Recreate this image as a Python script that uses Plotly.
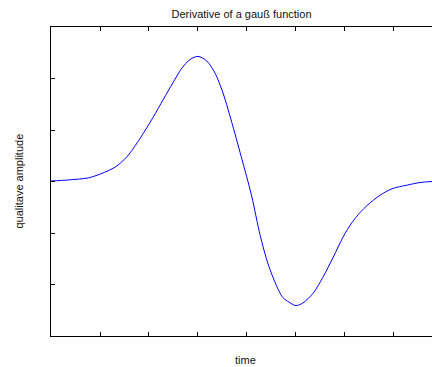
import plotly.graph_objects as go

# Sampled derivative-of-Gaussian pulse (time units, qualitative amplitude)
time = [0.0, 0.35, 0.76, 1.02, 1.31, 1.55, 1.82, 2.08, 2.29, 2.49, 2.67, 2.84,
        3.0, 3.18, 3.35, 3.51, 3.71, 3.90, 4.02, 4.10, 4.27, 4.43, 4.61, 4.73,
        4.92, 5.0, 5.14, 5.35, 5.55, 5.76, 5.96, 6.14, 6.31, 6.47, 6.71, 6.96,
        7.27, 7.53, 7.776]
amplitude = [0.01, 0.03, 0.07, 0.15, 0.28, 0.48, 0.84, 1.24, 1.59, 1.92, 2.2, 2.37,
             2.43, 2.34, 2.1, 1.72, 1.08, 0.42, 0.0, -0.30, -1.05, -1.6, -2.04, -2.25,
             -2.38, -2.41, -2.36, -2.17, -1.86, -1.47, -1.08, -0.8, -0.6, -0.45, -0.27, -0.14,
             -0.07, -0.02, 0.0]

x_ticks = [1, 2, 3, 4, 5, 6, 7]
y_ticks = [-2, -1, 0, 1, 2]

title_text = "Derivative of a gauß function"
x_label = "time"
y_label = "qualitave amplitude"

font = dict(family="Liberation Sans, Arial, sans-serif", size=11, color="#111111")

fig = go.Figure()
fig.add_trace(go.Scatter(
    x=time, y=amplitude, mode="lines",
    line=dict(color="#0000ff", width=1, shape="spline", smoothing=0.8),
    hoverinfo="skip", showlegend=False,
))

fig.update_layout(
    width=432, height=367,
    margin=dict(l=51, r=0, t=27, b=31),
    paper_bgcolor="white", plot_bgcolor="white",
    font=font,
    title=dict(text=title_text, x=0.5, xref="paper", y=1 - 14 / 367,
               yref="container", xanchor="center", yanchor="middle",
               font=font),
    xaxis=dict(
        range=[0, 7.776], tickvals=x_ticks, showticklabels=False,
        ticks="inside", ticklen=4, tickcolor="black", tickwidth=1,
        showline=True, linecolor="black", linewidth=1, mirror="ticks",
        showgrid=False, zeroline=False, fixedrange=True,
    ),
    yaxis=dict(
        range=[-3, 3], tickvals=y_ticks, showticklabels=False,
        ticks="inside", ticklen=4, tickcolor="black", tickwidth=1,
        showline=True, linecolor="black", linewidth=1, mirror=False,
        showgrid=False, zeroline=False, fixedrange=True,
    ),
    annotations=[
        dict(text=x_label, xref="paper", yref="paper", x=0.51, y=0,
             yshift=-24, showarrow=False, xanchor="center", yanchor="middle",
             font=font),
        dict(text=y_label, xref="paper", yref="paper", x=0, y=0.5,
             xshift=-33, showarrow=False, textangle=-90,
             xanchor="center", yanchor="middle", font=font),
    ],
)

fig.write_html("out.html")
